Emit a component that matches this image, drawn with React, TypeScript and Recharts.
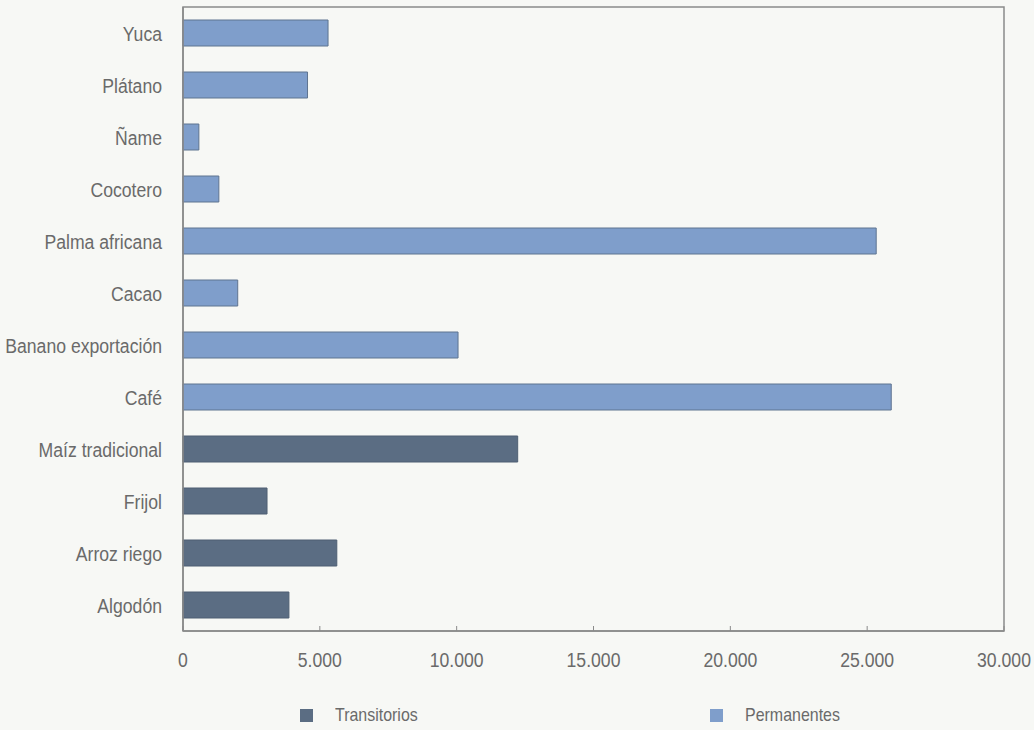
import { Bar, BarChart, ReferenceArea, XAxis, YAxis } from "recharts";

const cultivos = [
  "Yuca",
  "Plátano",
  "Ñame",
  "Cocotero",
  "Palma africana",
  "Cacao",
  "Banano exportación",
  "Café",
  "Maíz tradicional",
  "Frijol",
  "Arroz riego",
  "Algodón",
];

// null = el cultivo no pertenece a esa serie
const transitorios = [null, null, null, null, null, null, null, null, 12230, 3070, 5620, 3870];
const permanentes = [5300, 4550, 580, 1310, 25330, 2000, 10050, 25880, null, null, null, null];

const xTicks = [0, 5000, 10000, 15000, 20000, 25000, 30000];

const DARK = "#5b6d83";
const LIGHT = "#7f9ecb";
const TEXT = "#6a6a6a";
const FONT = '"Liberation Sans", Arial, sans-serif';
const SQUEEZE = 0.84; // fuente condensada del original

const data = cultivos.map((c, i) => ({
  cultivo: c,
  transitorios: transitorios[i],
  permanentes: permanentes[i],
}));

const fmtMiles = (v: number) => String(v).replace(/\B(?=(\d{3})+(?!\d))/g, ".");

function YTick(props: any) {
  const { x, y, payload } = props;
  return (
    <text
      transform={`translate(${x},${y}) scale(${SQUEEZE},1)`}
      textAnchor="end"
      dy="0.36em"
      fill={TEXT}
      fontSize={21}
      fontFamily={FONT}
    >
      {payload.value}
    </text>
  );
}

function XTick(props: any) {
  const { x, y, payload } = props;
  return (
    <text
      transform={`translate(${x},${y}) scale(${SQUEEZE},1)`}
      textAnchor="middle"
      dy="0.71em"
      fill={TEXT}
      fontSize={21}
      fontFamily={FONT}
    >
      {fmtMiles(payload.value)}
    </text>
  );
}

export default function App() {
  return (
    <div
      style={{
        position: "absolute",
        left: 0,
        top: 0,
        width: 1034,
        height: 730,
        background: "#f7f8f5",
        fontFamily: FONT,
      }}
    >
      <style>{"body{margin:0}"}</style>
      <BarChart
        width={1034}
        height={730}
        data={data}
        layout="vertical"
        margin={{ top: 7, right: 30, bottom: 59, left: 0 }}
        barSize={26}
      >
        <XAxis
          type="number"
          domain={[0, 30000]}
          ticks={xTicks}
          axisLine={{ stroke: "#8a8a8a", strokeWidth: 1.5 }}
          tickLine={{ stroke: "#8a8a8a" }}
          tickSize={-5}
          tickMargin={26}
          height={40}
          tick={<XTick />}
        />
        <YAxis
          type="category"
          dataKey="cultivo"
          width={183}
          axisLine={{ stroke: "#8a8a8a", strokeWidth: 1.5 }}
          tickLine={false}
          tickSize={0}
          tickMargin={21}
          interval={0}
          tick={<YTick />}
        />
        <ReferenceArea x1={0} x2={30000} fill="none" stroke="#8a8a8a" strokeWidth={1.5} />
        <Bar
          dataKey="transitorios"
          stackId="a"
          fill={DARK}
          stroke="#4f5f73"
          strokeWidth={1}
          isAnimationActive={false}
        />
        <Bar
          dataKey="permanentes"
          stackId="a"
          fill={LIGHT}
          stroke="#5f7490"
          strokeWidth={1}
          isAnimationActive={false}
        />
      </BarChart>

      {/* Leyenda */}
      {[
        { label: "Transitorios", color: DARK, left: 300 },
        { label: "Permanentes", color: LIGHT, left: 710 },
      ].map((it) => (
        <div
          key={it.label}
          style={{
            position: "absolute",
            left: it.left,
            top: 704,
            height: 22,
            display: "flex",
            alignItems: "center",
            gap: 22,
            color: TEXT,
            fontSize: 19,
          }}
        >
          <span style={{ display: "inline-block", width: 13, height: 13, background: it.color }} />
          <span style={{ display: "inline-block", transform: `scaleX(${SQUEEZE})`, transformOrigin: "left center" }}>
            {it.label}
          </span>
        </div>
      ))}
    </div>
  );
}
